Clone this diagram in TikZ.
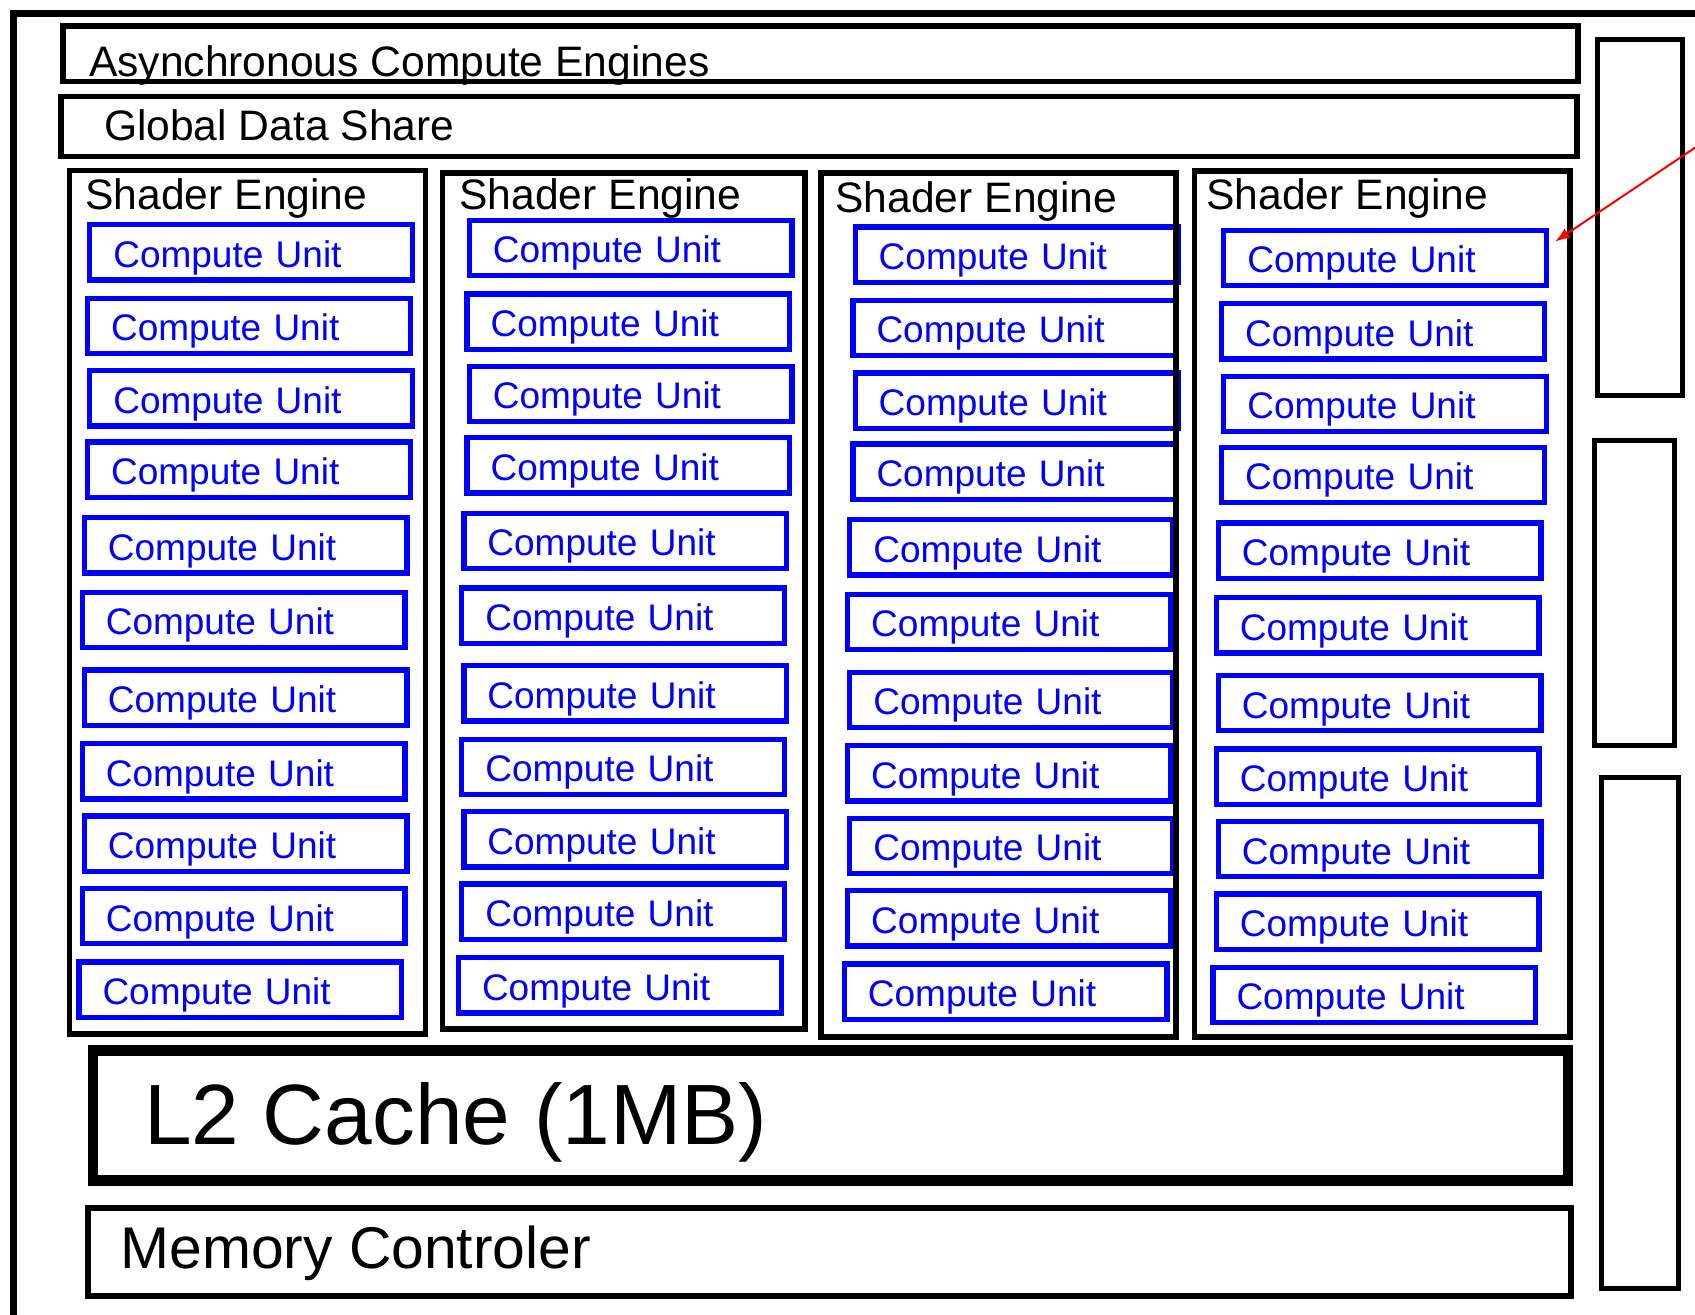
\documentclass[tikz,border=0pt]{standalone}
\usepackage{fontspec}
\usetikzlibrary{fit,arrows.meta}
\newfontfamily\arialfont{Liberation Sans}
\definecolor{cublue}{RGB}{0,0,255}
\definecolor{pointred}{RGB}{255,0,0}

\begin{document}
\begin{tikzpicture}[
  x=0.5pt, y=-0.5pt,
  frame/.style={draw=black, rectangle, inner sep=0pt, outer sep=0pt},
  chipframe/.style={frame, line width=3.25pt},
  block/.style={frame, line width=2.75pt},
  engine/.style={frame, line width=2.9pt},
  l2frame/.style={frame, line width=5.25pt},
  sidebar/.style={frame, line width=2.5pt},
  txt/.style={anchor=base west, inner sep=0pt, outer sep=0pt},
  titlefont/.style={font=\arialfont\fontsize{21.3pt}{25pt}\selectfont},
  enginefont/.style={font=\arialfont\fontsize{21.3pt}{25pt}\selectfont},
  cu/.style={draw=cublue, line width=2.65pt, rectangle, anchor=north west,
    outer sep=0pt, inner ysep=0pt, inner xsep=11.75pt,
    minimum width=161.35pt, minimum height=27.65pt,
    text width=137.85pt, align=left, text height=14.85pt, text depth=0pt,
    text=cublue, font=\arialfont\fontsize{18.5pt}{22pt}\selectfont},
  pointer/.style={draw=pointred, line width=1pt, -{Latex[length=7.5pt,width=5.5pt]}}
]
\useasboundingbox (0,0) rectangle (1695,1315);
\fill[white] (0,0) rectangle (1695,1315);
\clip (0,0) rectangle (1695,1315);

% chip outline, running off the right and bottom edges
\node[chipframe, fit={(13.5,13.5)(1760,1380)}] (chip) {};

% top blocks
\node[block, fit={(63,26)(1578,81.5)}] (ace) {};
\node[txt, titlefont] (acet) at (89,77) {Asynchronous Compute Engines};
\node[block, fit={(61,96.5)(1577,156.5)}] (gds) {};
\node[txt, titlefont] (gdst) at (104,141) {Global Data Share};

% compute units: column base, then per-row offsets
\foreach \c/\bx/\by in {1/89.8/224.8, 2/469.3/220.4, 3/855.2/226.9, 4/1223.8/230.2} {
  \foreach \r/\dx/\dy in {1/0/0, 2/2.2/73.5, 3/0/146, 4/2.2/217.2, 5/5.4/292.9,
                          6/7.5/367.5, 7/5.4/445.3, 8/7.5/518.8, 9/5.4/591.3,
                          10/7.5/663.7, 11/10.8/737.2} {
    \node[cu] (cu\c-\r) at (\bx-\dx, \by+\dy) {Compute Unit};
  }
}

% shader engine frames
\node[engine, fit={(69.5,170.5)(425.5,1034)}] (se1) {};
\node[engine, fit={(442.5,173.3)(804.7,1029)}] (se2) {};
\node[engine, fit={(821,173.3)(1176,1036.7)}] (se3) {};
\node[engine, fit={(1194.5,171)(1570,1037)}] (se4) {};
\node[txt, enginefont] (se1t) at (85.5,209.5) {Shader Engine};
\node[txt, enginefont] (se2t) at (459.5,210) {Shader Engine};
\node[txt, enginefont] (se3t) at (835.5,212.7) {Shader Engine};
\node[txt, enginefont] (se4t) at (1206.5,210) {Shader Engine};

% L2 cache and memory controller
\node[l2frame, fit={(92.8,1050.3)(1568,1180.5)}] (l2) {};
\node[txt, font=\arialfont\fontsize{42.8pt}{50pt}\selectfont] (l2t) at (144,1144) {L2 Cache (1MB)};
\node[block, line width=2.85pt, fit={(88,1208)(1571,1296)}] (mc) {};
\node[txt, font=\arialfont\fontsize{29.4pt}{34pt}\selectfont] (mct) at (120.5,1268.5) {Memory Controler};

% side bars
\node[sidebar, fit={(1597.5,40)(1682.5,396)}] (barA) {};
\node[sidebar, fit={(1594.5,441)(1674.5,745)}] (barB) {};
\node[sidebar, fit={(1601,777)(1678,1288.6)}] (barC) {};

% pointer
\coordinate (ptail) at (1712,136.3);
\draw[pointer] (ptail) -- ([shift={(8.5,-16.2)}]cu4-1.east);
\end{tikzpicture}
\end{document}
